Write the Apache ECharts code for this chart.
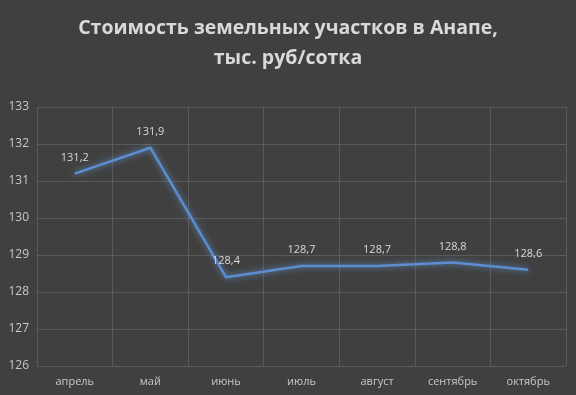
<!DOCTYPE html>
<html><head><meta charset="utf-8">
<script src="https://cdn.jsdelivr.net/npm/echarts@6/dist/echarts.min.js"></script>
<style>html,body{margin:0;padding:0;background:#404040;}#c{width:576px;height:395px;}</style>
</head><body><div id="c"></div>
<script>
var categories = ['апрель','май','июнь','июль','август','сентябрь','октябрь'];
var values = [131.2, 131.9, 128.4, 128.7, 128.7, 128.8, 128.6];
var yMin = 126, yMax = 133, yStep = 1;
var titleText = 'Стоимость земельных участков в Анапе,\nтыс. руб/сотка';

var chart = echarts.init(document.getElementById('c'), null, {renderer:'canvas'});
chart.setOption({
  backgroundColor: '#404040',
  animation: false,
  title: {
    text: titleText, left: 'center', top: 8,
    textStyle: {color: '#d9d9d9', fontSize: 19.5, fontWeight: 'bold', fontFamily: 'Open Sans', lineHeight: 30}
  },
  grid: {left: 37, right: 10, top: 107, bottom: 29, containLabel: false},
  xAxis: {
    type: 'category', data: categories, boundaryGap: true,
    axisLine: {show: false}, axisTick: {show: false},
    splitLine: {show: true, lineStyle: {color: '#5a5a5a', width: 1}},
    axisLabel: {color: '#c8c8c8', fontSize: 11, fontFamily: 'Open Sans', margin: 10, interval: 0}
  },
  yAxis: {
    type: 'value', min: yMin, max: yMax, interval: yStep,
    axisLine: {show: false}, axisTick: {show: false},
    splitLine: {lineStyle: {color: '#5a5a5a', width: 1}},
    axisLabel: {color: '#c8c8c8', fontSize: 12, fontFamily: 'Open Sans', margin: 8}
  },
  series: [{
    type: 'line', data: values, symbol: 'circle', symbolSize: 1, showSymbol: true,
    itemStyle: {color: 'rgba(0,0,0,0)'},
    lineStyle: {color: '#5b8dd0', width: 2.5, shadowColor: 'rgba(110,160,230,0.8)', shadowBlur: 6},
    label: {
      show: true, position: 'top', distance: 10, color: '#d9d9d9', fontSize: 11, fontFamily: 'Open Sans',
      formatter: function(p){ return p.value.toFixed(1).replace('.', ','); }
    }
  }]
});
</script></body></html>
